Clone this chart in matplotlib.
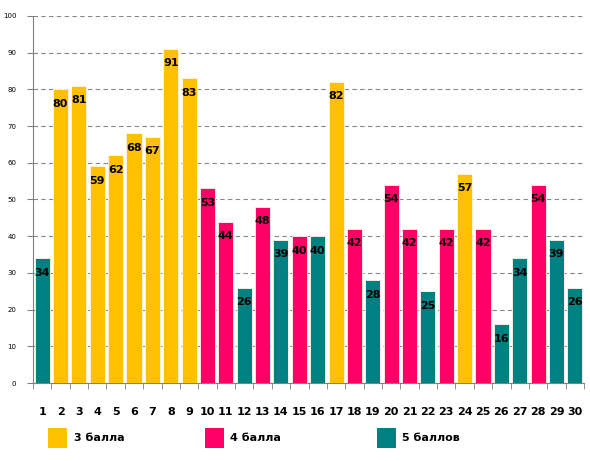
import matplotlib
matplotlib.use("Agg")
import matplotlib.pyplot as plt
from matplotlib.patches import Rectangle

questions = list(range(1, 31))
values = [34, 80, 81, 59, 62, 68, 67, 91, 83, 53, 44, 26, 48, 39, 40, 40, 82, 42, 28, 54,
          42, 25, 42, 57, 42, 16, 34, 54, 39, 26]
grades = [5, 3, 3, 3, 3, 3, 3, 3, 3, 4, 4, 5, 4, 5, 4, 5, 3, 4, 5, 4,
          4, 5, 4, 3, 4, 5, 5, 4, 5, 5]
legend_labels = {3: "3 балла", 4: "4 балла", 5: "5 баллов"}
colors = {3: "#FFC000", 4: "#FF0066", 5: "#008080"}

fig = plt.figure(figsize=(5.9, 4.61), dpi=100)
ax = fig.add_axes([33/590, 1-383/461, (584-33)/590, (383-16)/461])

bars = ax.bar(questions, values, width=0.82, color=[colors[g] for g in grades],
              edgecolor="#FFF8E0", linewidth=0.6, zorder=3)
for x, v in zip(questions, values):
    ax.text(x, v - 3.9, str(v), ha="center", va="center", fontsize=8, fontweight="bold",
            color="black", zorder=4)

ax.set_xlim(0.5, 30.5)
ax.set_ylim(0, 100)
ax.set_yticks(range(0, 101, 10))
ax.tick_params(axis="y", labelsize=5, length=4, color="#808080", pad=8)
ax.set_xticks(questions)
ax.set_xticklabels([str(q) for q in questions], fontsize=8, fontweight="bold")
ax.tick_params(axis="x", length=0, pad=17)
ax.set_xticks([i + 0.5 for i in range(0, 31)], minor=True)
ax.tick_params(axis="x", which="minor", length=4, color="#808080")
ax.yaxis.grid(True, linestyle=(0, (4, 3)), color="#888888", linewidth=0.8, zorder=0)
for s in ["top", "right"]:
    ax.spines[s].set_visible(False)
ax.spines["left"].set_color("#808080")
ax.spines["bottom"].set_color("#808080")

# legend
W, H = 590, 461
for g, (sx, tx) in zip([3, 4, 5], [(48, 74), (205, 230), (377, 402)]):
    fig.patches.append(Rectangle((sx/W, 1-448/H), 19/W, 20/H, transform=fig.transFigure,
                                 facecolor=colors[g], edgecolor="none"))
    fig.text(tx/W, 1-438/H, legend_labels[g], fontsize=8, fontweight="bold", va="center", ha="left")

fig.savefig("out.png", dpi=100)
